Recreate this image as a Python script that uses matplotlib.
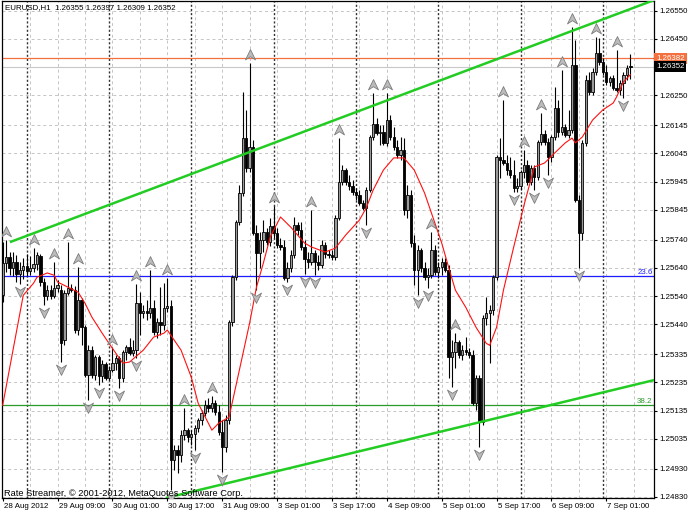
import matplotlib
matplotlib.use("Agg")
import numpy as np
import matplotlib.pyplot as plt
import matplotlib.transforms as mtransforms
from matplotlib.path import Path

plt.rcParams['font.family'] = ['Liberation Sans', 'DejaVu Sans']
FS = 5.7

# EURUSD H1, one bar per hour from 28 Aug 2012 17:00
opens = [1.25543, 1.25657, 1.25678, 1.25640, 1.25661, 1.25618, 1.25632, 1.25647, 1.25628, 1.25640,
         1.25654, 1.25682, 1.25590, 1.25540, 1.25561, 1.25540, 1.25569, 1.25561, 1.25384, 1.25550,
         1.25569, 1.25561, 1.25420, 1.25526, 1.25430, 1.25260, 1.25349, 1.25260, 1.25324, 1.25257,
         1.25300, 1.25250, 1.25278, 1.25303, 1.25321, 1.25250, 1.25342, 1.25359, 1.25338, 1.25349,
         1.25515, 1.25480, 1.25487, 1.25480, 1.25498, 1.25413, 1.25448, 1.25437, 1.25498, 1.25505,
         1.24960, 1.24995, 1.24977, 1.25048, 1.25066, 1.25041, 1.25052, 1.25073, 1.25101, 1.25126,
         1.25154, 1.25144, 1.25161, 1.25130, 1.25059, 1.25006, 1.25101, 1.25448, 1.25607, 1.25802,
         1.25905, 1.26099, 1.25993, 1.26068, 1.25763, 1.25692, 1.25738, 1.25767, 1.25731, 1.25788,
         1.25763, 1.25721, 1.25714, 1.25604, 1.25640, 1.25685, 1.25791, 1.25774, 1.25714, 1.25671,
         1.25661, 1.25692, 1.25661, 1.25650, 1.25721, 1.25689, 1.25685, 1.25678, 1.25816, 1.25944,
         1.25986, 1.25944, 1.25930, 1.25908, 1.25898, 1.25870, 1.25852, 1.25915, 1.26103, 1.26149,
         1.26117, 1.26121, 1.26082, 1.26163, 1.26103, 1.26068, 1.26039, 1.26057, 1.25845, 1.25898,
         1.25728, 1.25632, 1.25703, 1.25640, 1.25607, 1.25614, 1.25703, 1.25625, 1.25643, 1.25661,
         1.25632, 1.25324, 1.25342, 1.25377, 1.25331, 1.25349, 1.25342, 1.25331, 1.25161, 1.25250,
         1.25094, 1.25462, 1.25480, 1.25491, 1.25607, 1.26032, 1.26022, 1.26011, 1.25986, 1.25969,
         1.25922, 1.25930, 1.25979, 1.26004, 1.25944, 1.25993, 1.25962, 1.26085, 1.26114, 1.26085,
         1.26032, 1.26103, 1.26206, 1.26121, 1.26138, 1.26110, 1.26128, 1.26358, 1.25880, 1.25763,
         1.26082, 1.26305, 1.26262, 1.26333, 1.26400, 1.26369, 1.26333, 1.26298, 1.26312, 1.26276,
         1.26269, 1.26294, 1.26323, 1.26355]
highs = [1.25731, 1.25738, 1.25696, 1.25696, 1.25685, 1.25661, 1.25675, 1.25689, 1.25682, 1.25710,
         1.25696, 1.25689, 1.25604, 1.25579, 1.25579, 1.25661, 1.25597, 1.25579, 1.25561, 1.25731,
         1.25583, 1.25576, 1.25643, 1.25533, 1.25437, 1.25366, 1.25363, 1.25331, 1.25331, 1.25314,
         1.25307, 1.25293, 1.25359, 1.25331, 1.25328, 1.25349, 1.25366, 1.25391, 1.25384, 1.25583,
         1.25554, 1.25508, 1.25526, 1.25632, 1.25526, 1.25462, 1.25572, 1.25586, 1.25604, 1.25526,
         1.25013, 1.25013, 1.25066, 1.25144, 1.25073, 1.25066, 1.25084, 1.25108, 1.25137, 1.25172,
         1.25179, 1.25186, 1.25172, 1.25154, 1.25101, 1.25119, 1.25455, 1.25614, 1.25809, 1.25933,
         1.26262, 1.26199, 1.26365, 1.26092, 1.25791, 1.25767, 1.25809, 1.25781, 1.25816, 1.25859,
         1.25781, 1.25746, 1.25738, 1.25661, 1.25703, 1.25820, 1.25802, 1.25802, 1.25738, 1.25696,
         1.25845, 1.25703, 1.25685, 1.25738, 1.25731, 1.25703, 1.25703, 1.25827, 1.26099, 1.26004,
         1.25993, 1.25969, 1.25951, 1.25922, 1.25915, 1.25880, 1.25926, 1.26110, 1.26259, 1.26170,
         1.26145, 1.26145, 1.26259, 1.26181, 1.26138, 1.26092, 1.26103, 1.26099, 1.25933, 1.25915,
         1.25756, 1.25721, 1.25710, 1.25661, 1.25640, 1.25767, 1.25721, 1.25661, 1.25675, 1.25675,
         1.25650, 1.25384, 1.25409, 1.25384, 1.25366, 1.25395, 1.25356, 1.25349, 1.25260, 1.25260,
         1.25473, 1.25537, 1.25508, 1.25614, 1.26039, 1.26099, 1.26234, 1.26039, 1.26032, 1.26022,
         1.25958, 1.25986, 1.26057, 1.26022, 1.26004, 1.26004, 1.26092, 1.26188, 1.26128, 1.26099,
         1.26110, 1.26280, 1.26234, 1.26340, 1.26149, 1.26199, 1.26492, 1.26446, 1.25898, 1.26092,
         1.26323, 1.26333, 1.26347, 1.26457, 1.26453, 1.26383, 1.26358, 1.26319, 1.26323, 1.26411,
         1.26305, 1.26333, 1.26358, 1.26397]
lows = [1.25519, 1.25625, 1.25614, 1.25611, 1.25590, 1.25583, 1.25600, 1.25611, 1.25614, 1.25625,
        1.25632, 1.25576, 1.25508, 1.25526, 1.25529, 1.25533, 1.25554, 1.25307, 1.25366, 1.25543,
        1.25554, 1.25409, 1.25402, 1.25366, 1.25253, 1.25172, 1.25250, 1.25243, 1.25225, 1.25236,
        1.25243, 1.25243, 1.25271, 1.25278, 1.25214, 1.25236, 1.25314, 1.25331, 1.25328, 1.25321,
        1.25402, 1.25462, 1.25455, 1.25462, 1.25402, 1.25391, 1.25402, 1.25420, 1.25484, 1.24853,
        1.24924, 1.24913, 1.24952, 1.25030, 1.25023, 1.25013, 1.24995, 1.25059, 1.25084, 1.25115,
        1.25130, 1.25130, 1.25119, 1.25048, 1.24917, 1.24988, 1.25087, 1.25434, 1.25597, 1.25791,
        1.25894, 1.25979, 1.25979, 1.25756, 1.25561, 1.25640, 1.25696, 1.25721, 1.25717, 1.25746,
        1.25710, 1.25703, 1.25597, 1.25590, 1.25625, 1.25675, 1.25756, 1.25703, 1.25618, 1.25640,
        1.25650, 1.25614, 1.25632, 1.25640, 1.25675, 1.25675, 1.25668, 1.25668, 1.25809, 1.25933,
        1.25933, 1.25915, 1.25898, 1.25880, 1.25862, 1.25845, 1.25791, 1.25908, 1.26092, 1.26110,
        1.26075, 1.26075, 1.26071, 1.26092, 1.26057, 1.26029, 1.26022, 1.25827, 1.25816, 1.25714,
        1.25579, 1.25543, 1.25625, 1.25597, 1.25569, 1.25604, 1.25614, 1.25604, 1.25614, 1.25625,
        1.25250, 1.25218, 1.25285, 1.25321, 1.25314, 1.25331, 1.25321, 1.25154, 1.25137, 1.25006,
        1.25084, 1.25437, 1.25303, 1.25473, 1.25597, 1.25958, 1.26004, 1.25969, 1.25958, 1.25908,
        1.25908, 1.25915, 1.25958, 1.25933, 1.25933, 1.25915, 1.25951, 1.26075, 1.26075, 1.25969,
        1.26015, 1.26092, 1.26103, 1.26110, 1.26103, 1.26099, 1.26117, 1.25873, 1.25640, 1.25738,
        1.26071, 1.26252, 1.26252, 1.26323, 1.26358, 1.26323, 1.26287, 1.26284, 1.26269, 1.26262,
        1.26252, 1.26241, 1.26305, 1.26309]
closes = [1.25657, 1.25678, 1.25640, 1.25661, 1.25618, 1.25632, 1.25647, 1.25628, 1.25640, 1.25654,
          1.25685, 1.25590, 1.25540, 1.25561, 1.25540, 1.25569, 1.25579, 1.25373, 1.25550, 1.25569,
          1.25561, 1.25420, 1.25526, 1.25430, 1.25260, 1.25349, 1.25260, 1.25324, 1.25257, 1.25300,
          1.25250, 1.25278, 1.25303, 1.25321, 1.25250, 1.25342, 1.25359, 1.25338, 1.25349, 1.25515,
          1.25480, 1.25487, 1.25480, 1.25498, 1.25413, 1.25448, 1.25437, 1.25498, 1.25505, 1.24960,
          1.24995, 1.24977, 1.25048, 1.25066, 1.25041, 1.25052, 1.25073, 1.25101, 1.25126, 1.25154,
          1.25144, 1.25161, 1.25130, 1.25059, 1.25006, 1.25101, 1.25448, 1.25607, 1.25802, 1.25905,
          1.26099, 1.25993, 1.26068, 1.25763, 1.25692, 1.25738, 1.25767, 1.25731, 1.25788, 1.25763,
          1.25721, 1.25714, 1.25604, 1.25640, 1.25685, 1.25791, 1.25774, 1.25714, 1.25671, 1.25661,
          1.25692, 1.25661, 1.25650, 1.25721, 1.25689, 1.25685, 1.25678, 1.25816, 1.25944, 1.25986,
          1.25944, 1.25930, 1.25908, 1.25898, 1.25870, 1.25852, 1.25915, 1.26103, 1.26149, 1.26117,
          1.26121, 1.26082, 1.26163, 1.26103, 1.26068, 1.26039, 1.26057, 1.25845, 1.25898, 1.25728,
          1.25632, 1.25703, 1.25640, 1.25607, 1.25614, 1.25703, 1.25625, 1.25643, 1.25661, 1.25632,
          1.25324, 1.25342, 1.25377, 1.25331, 1.25349, 1.25342, 1.25331, 1.25161, 1.25250, 1.25094,
          1.25462, 1.25480, 1.25491, 1.25607, 1.26032, 1.26022, 1.26011, 1.25986, 1.25969, 1.25922,
          1.25930, 1.25979, 1.26004, 1.25944, 1.25993, 1.25962, 1.26085, 1.26114, 1.26085, 1.26032,
          1.26103, 1.26206, 1.26121, 1.26138, 1.26110, 1.26128, 1.26358, 1.25880, 1.25763, 1.26082,
          1.26305, 1.26262, 1.26333, 1.26400, 1.26369, 1.26333, 1.26298, 1.26312, 1.26276, 1.26269,
          1.26294, 1.26323, 1.26347, 1.26352]

# red moving average at these bars
ma_bars = [0, 6, 9, 10, 13, 15, 16, 19, 22, 24, 26, 29, 31, 33, 35, 37, 41, 44, 47, 48,
           52, 55, 57, 61, 63, 66, 69, 72, 74, 76, 78, 81, 84, 88, 90, 94, 97, 100, 104, 106,
           108, 111, 114, 117, 120, 123, 126, 128, 130, 132, 135, 138, 141, 142, 144, 146, 149, 152, 155, 158,
           161, 164, 166, 167, 169, 172, 175, 178, 179, 181, 183]
ma_vals = [1.25154, 1.25543, 1.25586, 1.25607, 1.25622, 1.25614, 1.25590, 1.25572, 1.25554, 1.25515,
           1.25466, 1.25409, 1.25373, 1.25338, 1.25303, 1.25307, 1.25349, 1.25395, 1.25409, 1.25420,
           1.25349, 1.25253, 1.25161, 1.25066, 1.25091, 1.25112, 1.25278, 1.25445, 1.25572, 1.25657,
           1.25749, 1.25820, 1.25784, 1.25728, 1.25714, 1.25696, 1.25710, 1.25756, 1.25809, 1.25852,
           1.25915, 1.25986, 1.26029, 1.26029, 1.25986, 1.25905, 1.25799, 1.25728, 1.25643, 1.25561,
           1.25501, 1.25430, 1.25373, 1.25366, 1.25430, 1.25561, 1.25714, 1.25862, 1.25997, 1.26011,
           1.26047, 1.26082, 1.26099, 1.26082, 1.26103, 1.26163, 1.26199, 1.26223, 1.26245, 1.26298,
           1.26323]

# fractal bars
frac_up = [1, 9, 15, 19, 22, 32, 39, 43, 48, 53, 61, 72, 79, 90, 98, 108, 112, 125, 132, 146,
           152, 157, 163, 166, 173, 179]
frac_down = [5, 12, 17, 25, 28, 34, 39, 49, 56, 64, 74, 83, 88, 91, 106, 121, 124, 131, 139, 149,
             155, 159, 168, 181]

# trend channel anchors (bar, price)
upper_trend = [(2.1, 1.25731), (180, 1.26542)]
lower_trend = [(47.6, 1.24826), (180, 1.25214)]

fibo_labels = ['23.6', '38.2']
fibo_prices = [1.25611, 1.25155]

ask_price = 1.26382
bid_price = 1.26352

ytick_vals = [1.26550, 1.26450, 1.26350, 1.26250, 1.26145, 1.26045, 1.25945, 1.25845, 1.25740,
              1.25640, 1.25540, 1.25440, 1.25335, 1.25235, 1.25135, 1.25035, 1.24930, 1.24830]
xtick_bars = [0, 16, 32, 48, 64, 80, 96, 112, 128, 144, 160, 176]
xtick_labels = ['28 Aug 2012', '29 Aug 09:00', '30 Aug 01:00', '30 Aug 17:00', '31 Aug 09:00',
                '3 Sep 01:00', '3 Sep 17:00', '4 Sep 09:00', '5 Sep 01:00', '5 Sep 17:00',
                '6 Sep 09:00', '7 Sep 01:00']
day_starts = [7, 31, 55, 79, 103, 127, 151, 175]

#%% figure
fig = plt.figure(figsize=(6.88, 5.16), dpi=100)
ax = fig.add_axes([2 / 688, 18 / 516, 652 / 688, 497 / 516])
ax.set_xlim(-0.2, 189.9)
ax.set_ylim(1.24826, 1.26584)

# grid
for v in ytick_vals:
    ax.axhline(v, color='#c4c4c4', lw=0.7, ls=(0, (3, 3)), zorder=0)
for b in range(8, 190, 8):
    ax.axvline(b, color='#c4c4c4', lw=0.7, ls=(0, (3, 3)), zorder=0)
for d in day_starts:
    ax.axvline(d, color='#303030', lw=1.0, ls=(0, (1.5, 1.5)), zorder=0.5)

# fibo levels, ask / bid lines
fibo_colors = ['#1c1cff', '#2a9a2a']
for lab, p, col in zip(fibo_labels, fibo_prices, fibo_colors):
    ax.axhline(p, color=col, lw=0.9, zorder=1)
    ax.text(0.998, p, lab, transform=ax.get_yaxis_transform(), ha='right', va='bottom',
            color=col, fontsize=FS)
ax.axhline(ask_price, color='#f4703e', lw=0.9, zorder=1)
ax.axhline(bid_price, color='#c8c8c8', lw=0.8, zorder=1)

# candles
o = np.array(opens)
h = np.array(highs)
l = np.array(lows)
c = np.array(closes)
x = np.arange(len(c))
bull = c >= o
ax.vlines(x, l, h, color='black', lw=0.8, zorder=3)
lo = np.minimum(o, c)
hgt = np.maximum(np.abs(c - o), 0.00002)
ax.bar(x[bull], hgt[bull], bottom=lo[bull], width=0.68, color='#9a9a9a',
       edgecolor='black', linewidth=0.6, zorder=4)
ax.bar(x[~bull], hgt[~bull], bottom=lo[~bull], width=0.68, color='black',
       edgecolor='black', linewidth=0.6, zorder=4)

# moving average
ax.plot(ma_bars, ma_vals, color='#ff1010', lw=0.8, zorder=5)

# trend channel, extended to the right edge
for (x0, y0), (x1, y1) in [upper_trend, lower_trend]:
    k = (y1 - y0) / (x1 - x0)
    ax.plot([x0, 192], [y0, y0 + k * (192 - x0)], color='#22cc22', lw=1.8, zorder=6,
            solid_capstyle='butt')

# fractals
up_arrow = Path([(0, 1), (0.85, -0.75), (0, -0.2), (-0.85, -0.75), (0, 1)],
                [Path.MOVETO, Path.LINETO, Path.LINETO, Path.LINETO, Path.CLOSEPOLY])
down_arrow = Path([(0, -1), (0.85, 0.75), (0, 0.2), (-0.85, 0.75), (0, -1)],
                  [Path.MOVETO, Path.LINETO, Path.LINETO, Path.LINETO, Path.CLOSEPOLY])
tr_up = mtransforms.offset_copy(ax.transData, fig=fig, x=0, y=5.6, units='points')
tr_dn = mtransforms.offset_copy(ax.transData, fig=fig, x=0, y=-5.0, units='points')
ax.plot(frac_up, h[frac_up], ls='none', marker=up_arrow, ms=8.5, mfc='#bcbcbc', mec='#7c7c7c',
        mew=0.6, transform=tr_up, zorder=7)
ax.plot(frac_down, l[frac_down], ls='none', marker=down_arrow, ms=8.5, mfc='#bcbcbc', mec='#7c7c7c',
        mew=0.6, transform=tr_dn, zorder=7)

# axes, ticks
for s in ax.spines.values():
    s.set_color('black')
    s.set_linewidth(0.9)
ax.yaxis.tick_right()
ax.set_yticks(ytick_vals)
ax.set_yticklabels(['' if abs(v - 1.26350) < 1e-6 else '%.5f' % v for v in ytick_vals])
ax.set_xticks(xtick_bars)
ax.set_xticklabels(xtick_labels, ha='left')
ax.tick_params(axis='both', direction='out', length=2.2, width=0.8, colors='black',
               labelsize=FS, pad=1.4)
shift = mtransforms.ScaledTranslation(1 / 100, 0, fig.dpi_scale_trans)
for lbl in ax.get_xticklabels():
    lbl.set_transform(lbl.get_transform() + shift)

# current price boxes
ax.text(1.003, ask_price, '%.5f' % ask_price, transform=ax.get_yaxis_transform(), ha='left',
        va='center', color='white', fontsize=FS, clip_on=False,
        bbox=dict(boxstyle='square,pad=0.25', fc='#f4703e', ec='none'))
ax.text(1.003, bid_price, '%.5f' % bid_price, transform=ax.get_yaxis_transform(), ha='left',
        va='center', color='white', fontsize=FS, clip_on=False,
        bbox=dict(boxstyle='square,pad=0.25', fc='black', ec='none'))

fig.text(5 / 688, 1 - 8 / 516, 'EURUSD,H1  1.26355 1.26397 1.26309 1.26352', ha='left',
         va='center', fontsize=FS)
fig.text(4 / 688, 1 - 493 / 516, 'Rate Streamer, \u00a9 2001-2012, MetaQuotes Software Corp.',
         ha='left', va='center', fontsize=6.7)

fig.savefig('out.png', dpi=100)
